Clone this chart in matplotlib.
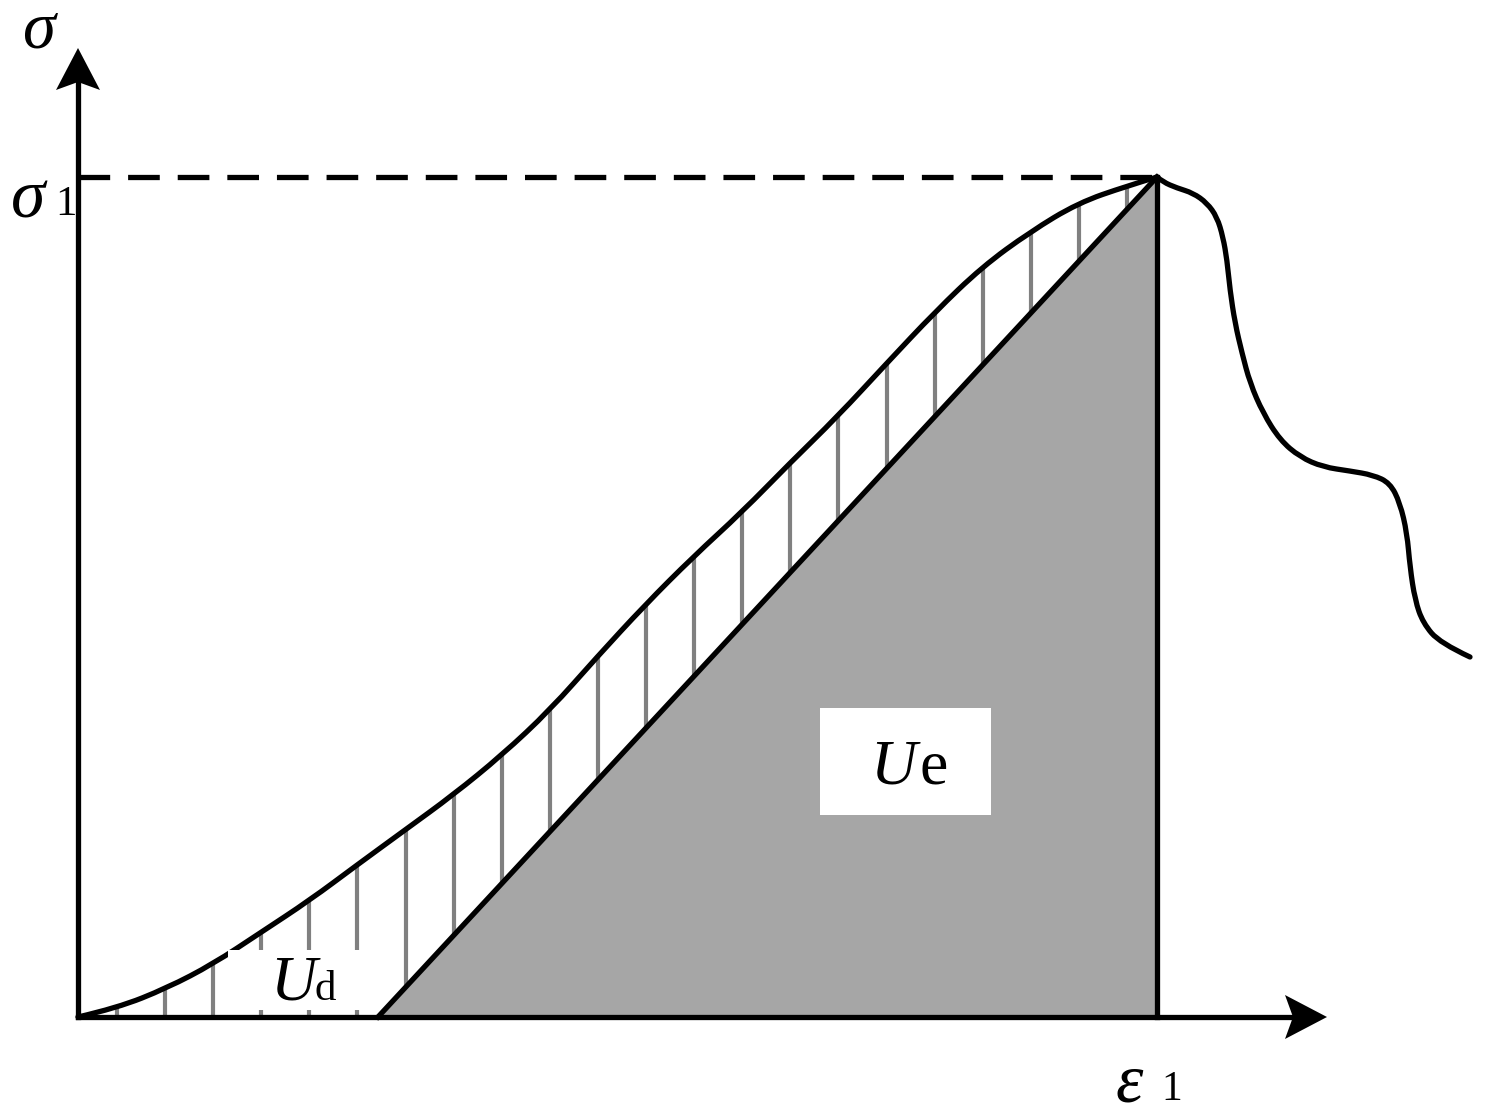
"""
Stress-strain sketch: dissipated energy Ud (hatched) and elastic energy Ue (grey).
"""
import numpy as np
import matplotlib
matplotlib.use('Agg')
import matplotlib.pyplot as plt
from matplotlib.patches import Rectangle, PathPatch, Polygon
from matplotlib.path import Path

plt.rcParams['mathtext.fontset'] = 'custom'
plt.rcParams['mathtext.rm'] = 'Liberation Serif'
plt.rcParams['mathtext.it'] = 'Liberation Serif:italic'
SERIF = 'Liberation Serif'

# pre-peak loading curve (strain, stress), arbitrary units
strain_pre = [0, 39, 89, 135, 182, 232, 279, 327, 375, 424, 472, 519, 567,
              615, 664, 712, 759, 809, 857, 904, 952, 1000, 1049, 1079]
stress_pre = [0, 9, 29, 53, 84, 117, 152, 187, 222, 262, 307, 360, 412,
              460, 505, 554, 600, 654, 705, 750, 785, 814, 831, 840]

# post-peak softening branch
strain_post = [1079, 1085, 1099, 1115, 1129, 1139, 1145, 1149, 1152, 1157, 1164,
               1172, 1185, 1202, 1222, 1245, 1272, 1295, 1312, 1322, 1329, 1332,
               1337, 1345, 1362, 1392]
stress_post = [840, 835, 829, 824, 814, 800, 780, 757, 727, 694, 664,
               634, 604, 577, 560, 550, 546, 542, 534, 514, 484, 450,
               417, 394, 374, 360]

# peak point and unloading (elastic) line start
eps_1 = 1079
sigma_1 = 840
eps_unload = 300

# axis extents (tips of the arrows)
x_tip = 1249
y_tip = 969

LW = 3.8


def smooth_path(xs, ys):
    """Quadratic B-spline style path through the read points (drawn by matplotlib)."""
    pts = np.column_stack([xs, ys]).astype(float)
    verts = [pts[0]]
    codes = [Path.MOVETO]
    for i in range(1, len(pts) - 1):
        verts += [pts[i], (pts[i] + pts[i + 1]) / 2]
        codes += [Path.CURVE3, Path.CURVE3]
    verts[-1] = pts[-1]
    return Path(verts, codes)


fig = plt.figure(figsize=(14.85, 11.19), dpi=100)
ax = fig.add_axes([0, 0, 1, 1])
ax.set_xlim(-78, 1407)
ax.set_ylim(-102, 1017)
ax.axis('off')

# elastic energy triangle
ax.fill([eps_unload, eps_1, eps_1], [0, 0, sigma_1], color='#a6a6a6', lw=0, zorder=1)

# hatching for dissipated energy
hatch_x = np.linspace(39, 1049, 22)
top = np.interp(hatch_x, strain_pre, stress_pre)
bottom = np.clip((hatch_x - eps_unload) / (eps_1 - eps_unload) * sigma_1, 0, None)
ax.vlines(hatch_x, bottom, top, color='#808080', lw=3, zorder=2)

# curves and lines
for xs, ys in [(strain_pre, stress_pre), (strain_post, stress_post)]:
    ax.add_patch(PathPatch(smooth_path(xs, ys), facecolor='none', edgecolor='black',
                           lw=LW, capstyle='round', joinstyle='round', zorder=3))
ax.plot([eps_unload, eps_1], [0, sigma_1], color='black', lw=LW, zorder=4)
ax.plot([eps_1, eps_1], [0, sigma_1], color='black', lw=LW, zorder=4)
ax.plot([0, eps_1], [sigma_1, sigma_1], color='black', lw=LW, dashes=(6, 3.4), zorder=3)

# label boxes
ax.add_patch(Rectangle((150, 7), 134, 60, facecolor='white', edgecolor='none', zorder=5))
ax.add_patch(Rectangle((742, 202), 171, 107, facecolor='white', edgecolor='none', zorder=5))

# axes with notched arrowheads
ax.plot([0, x_tip - 30], [0, 0], color='black', lw=LW, solid_capstyle='projecting', zorder=6)
ax.plot([0, 0], [0, y_tip - 30], color='black', lw=LW, solid_capstyle='projecting', zorder=6)
hl, hw, notch = 42, 22, 8
ax.add_patch(Polygon([(x_tip, 0), (x_tip - hl, hw), (x_tip - hl + notch, 0), (x_tip - hl, -hw)],
                     closed=True, facecolor='black', edgecolor='none', zorder=7))
ax.add_patch(Polygon([(0, y_tip), (-hw, y_tip - hl), (0, y_tip - hl + notch), (hw, y_tip - hl)],
                     closed=True, facecolor='black', edgecolor='none', zorder=7))

# text
ax.text(-56, 969, 'σ', fontsize=48, family=SERIF, style='italic', ha='left', va='baseline')
ax.text(-67, 800, 'σ', fontsize=50, family=SERIF, style='italic', ha='left', va='baseline')
ax.text(-23, 802, '1', fontsize=31, family=SERIF, ha='left', va='baseline')
ax.text(1037, -85, r'$\varepsilon$', fontsize=50, ha='left', va='baseline')
ax.text(1083, -83, '1', fontsize=30, family=SERIF, ha='left', va='baseline')
ax.text(192, 17, 'U', fontsize=46, family=SERIF, style='italic', ha='left', va='baseline', zorder=8)
ax.text(236, 17, 'd', fontsize=31, family=SERIF, ha='left', va='baseline', zorder=8)
ax.text(792, 234, 'U', fontsize=46, family=SERIF, style='italic', ha='left', va='baseline', zorder=8)
ax.text(841, 234, 'e', fontsize=46, family=SERIF, ha='left', va='baseline', zorder=8)

fig.savefig('out.png', dpi=100, facecolor='white')
